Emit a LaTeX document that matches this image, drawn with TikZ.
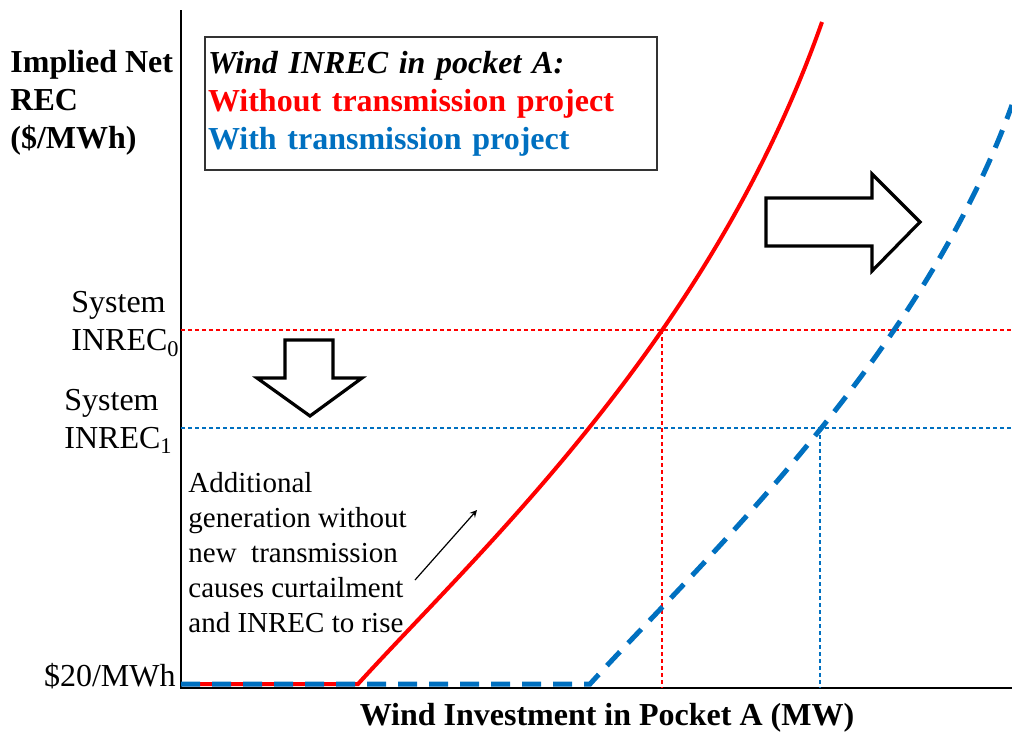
\documentclass[tikz,border=0pt]{standalone}
\usepackage{fontspec}
\setmainfont{Liberation Serif}
\definecolor{wblue}{RGB}{0,112,192}

\begin{document}
\begin{tikzpicture}[x=0.5pt,y=-0.5pt,
	axis/.style={draw=black, line width=0.8pt},
	guide/.style={line width=0.6pt, dash pattern=on 2pt off 1.5pt},
	nocurve/.style={draw=red, line width=2pt},
	withcurve/.style={draw=wblue, line width=2.5pt, dash pattern=on 9.5pt off 6pt},
	blockarrow/.style={draw=black, line width=1.6pt, fill=white, line join=miter},
	bigtext/.style={font=\fontsize{16}{19}\selectfont, inner sep=0pt, align=left},
	note/.style={font=\fontsize{14.5}{17.5}\selectfont, inner sep=0pt, align=left},
	>=stealth]
	
	\useasboundingbox (0,0) rectangle (1012,734);
	
	%Coordinates
	\coordinate (origin)	at (181,688);
	\coordinate (ytop)	at (181,10);
	\coordinate (xend)	at (1012,688);
	\coordinate (lvl0)	at (181,330);
	\coordinate (lvl0end)	at (1012,330);
	\coordinate (cut0)	at (662,330);
	\coordinate (foot0)	at (662,688);
	\coordinate (lvl1)	at (181,428);
	\coordinate (lvl1end)	at (1012,428);
	\coordinate (cut1)	at (820,428);
	\coordinate (foot1)	at (820,688);
	\coordinate (floor)	at (181,684);
	\coordinate (kinkno)	at (358,684);
	\coordinate (kinkwith)	at (590,684);
	
	%Labels
	\node[bigtext, font=\fontsize{16}{19}\selectfont\bfseries, anchor=west]	(ylabel)	at (10,103)	{Implied Net\\REC\\(\$/MWh)};
	\node[bigtext, anchor=west]	(sys0)	at (71,324)	{System\\INREC\textsubscript{0}};
	\node[bigtext, anchor=west]	(sys1)	at (64,421)	{System\\INREC\textsubscript{1}};
	\node[bigtext, anchor=east]	(floorlabel)	at (176,676)	{\$20/MWh};
	\node[bigtext, font=\fontsize{16}{19}\selectfont\bfseries]	(xlabel)	at (607,718)	{Wind Investment in Pocket A (MW)};
	\node[note, anchor=north west]	(curtail)	at (188,472)	{Additional\\generation without\\new\ \ transmission\\causes curtailment\\and INREC to rise};
	
	%Legend
	\node[draw=black!80, line width=0.8pt, minimum width=226pt, minimum height=66.5pt, inner xsep=1.5pt, inner ysep=0pt, text width=223pt, align=left, font=\fontsize{16}{19}\selectfont\bfseries]	(legend)	at (431,103.5)
		{\textit{Wind INREC in pocket A:}\\\textcolor{red}{Without transmission project}\\\textcolor{wblue}{With transmission project}};
	
	%Axes
	\draw[axis] (ytop) -- (origin) -- (xend);
	
	%Guides
	\draw[guide, red] (lvl0) -- (lvl0end);
	\draw[guide, red] (cut0) -- (foot0);
	\draw[guide, wblue] (lvl1) -- (lvl1end);
	\draw[guide, wblue] (cut1) -- (foot1);
	
	%Curves
	\draw[nocurve] (floor) -- (kinkno) .. controls (480,550) and (710,340) .. (822,22);
	\draw[withcurve] (floor) -- (kinkwith) .. controls (700,563) and (920,360) .. (1012,105);
	
	%Block arrows
	\draw[blockarrow] (285,340) -- (333,340) -- (333,378) -- (362,378) -- (310,416) -- (257,378) -- (285,378) -- cycle;
	\draw[blockarrow] (766,198) -- (872,198) -- (872,174) -- (920,222) -- (872,271) -- (872,246) -- (766,246) -- cycle;
	
	%Pointer
	\coordinate (ptail)	at (415,580);
	\coordinate (ptip)	at (477,510);
	\draw[black, line width=0.6pt, ->] (ptail) -- (ptip);
\end{tikzpicture}
\end{document}
